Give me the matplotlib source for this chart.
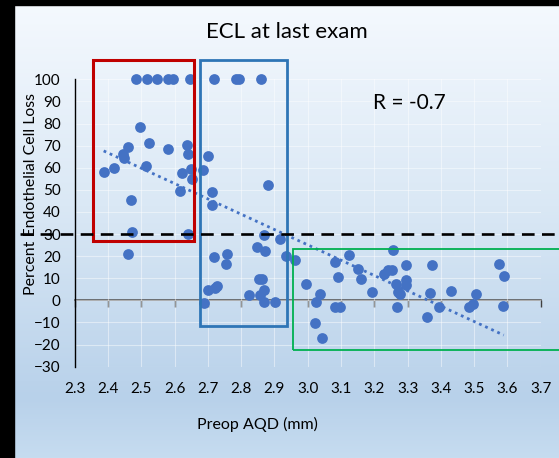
import numpy as np
import matplotlib
matplotlib.use("Agg")
from matplotlib import pyplot as plt
from matplotlib.colors import LinearSegmentedColormap
from matplotlib.patches import Rectangle
import matplotlib.transforms as mtransforms

plt.rcParams['font.family'] = ['Lato', 'DejaVu Sans']

# data: preop AQD (mm) vs percent endothelial cell loss
aqd_100 = [2.483, 2.517, 2.546, 2.581, 2.596, 2.646, 2.719, 2.785, 2.794, 2.861]
ecl_100 = [100] * len(aqd_100)

aqd_left = [2.387, 2.418, 2.444, 2.449, 2.459, 2.495, 2.514, 2.522, 2.579, 2.617,
            2.621, 2.637, 2.641, 2.648, 2.651, 2.469, 2.471, 2.639, 2.459]
ecl_left = [58.1, 60.0, 66.4, 64.6, 69.4, 78.4, 60.9, 71.4, 68.5, 49.6,
            57.6, 70.4, 66.3, 59.6, 55.1, 45.6, 30.9, 30.2, 21.1]

aqd_mid = [2.684, 2.699, 2.712, 2.712, 2.881, 2.717, 2.758, 2.754, 2.848, 2.873,
           2.869, 2.916, 2.934, 2.701, 2.720, 2.727, 2.688, 2.824, 2.854, 2.863,
           2.869, 2.856, 2.868, 2.902]
ecl_mid = [58.8, 65.2, 48.9, 43.0, 52.3, 19.6, 21.1, 16.3, 24.1, 22.3,
           29.7, 27.7, 20.2, 4.5, 5.6, 6.3, -1.2, 2.3, 9.5, 9.8,
           4.5, 2.6, -0.9, -0.9]

aqd_right = [2.963, 2.994, 3.036, 3.026, 3.021, 3.043, 3.083, 3.123, 3.091, 3.081,
             3.096, 3.151, 3.161, 3.194, 3.228, 3.241, 3.254, 3.256, 3.294, 3.266,
             3.294, 3.296, 3.271, 3.276, 3.267, 3.374, 3.366, 3.357, 3.393, 3.430,
             3.486, 3.496, 3.506, 3.574, 3.589, 3.588]
ecl_right = [18.1, 7.2, 2.7, -0.8, -10.3, -17.0, 17.3, 20.4, 10.5, -3.0,
             -3.0, 14.0, 9.8, 3.8, 12.1, 13.9, 13.9, 22.9, 16.0, 7.2,
             9.4, 6.8, 3.8, 3.0, -3.0, 16.2, 3.5, -7.7, -3.0, 4.1,
             -3.0, -1.8, 3.0, 16.6, 10.9, -2.6]

x = np.array(aqd_100 + aqd_left + aqd_mid + aqd_right)
y = np.array(ecl_100 + ecl_left + ecl_mid + ecl_right)

threshold = 30
r_text = "R = -0.7"

# highlight boxes (x0, x1, y0, y1) in data units
box_red = (2.354, 2.659, 26.7, 108.6)
box_blue = (2.676, 2.938, -11.8, 108.6)
box_green = (2.956, 3.95, -22.6, 23.2)

W, H = 559, 458
fig = plt.figure(figsize=(W / 100, H / 100), dpi=100)

# gradient background
bg = fig.add_axes([0, 0, 1, 1], zorder=-10)
cmap = LinearSegmentedColormap.from_list(
    "bg", [(0, "#f5f9fe"), (0.45, "#dae8f5"), (0.87, "#b8d1ea"), (1.0, "#c6dcf0")])
bg.imshow(np.linspace(0, 1, 256).reshape(-1, 1), aspect="auto", cmap=cmap,
          extent=[0, 1, 0, 1], origin="upper")
bg.axis("off")

ax = fig.add_axes([74.7 / W, 1 - 366.7 / H, (540.7 - 74.7) / W, (366.7 - 79.3) / H])
ax.set_facecolor("none")
ax.set_xlim(2.3, 3.7)
ax.set_ylim(-30, 100)
ax.set_xticks(np.round(np.arange(2.3, 3.71, 0.1), 1))
ax.set_yticks(np.arange(-30, 101, 10))
ax.set_xticklabels([f"{v:.1f}" for v in np.arange(2.3, 3.71, 0.1)])
ax.grid(color="white", alpha=0.45, lw=0.8)
ax.set_axisbelow(True)
for s in ["top", "right", "bottom"]:
    ax.spines[s].set_visible(False)
ax.spines["left"].set_color("black")
ax.spines["left"].set_linewidth(1.0)
ax.tick_params(axis="both", length=0, labelsize=11, colors="black")
ax.tick_params(axis="y", pad=10)
ax.tick_params(axis="x", pad=11)

# horizontal axis line at zero with outside tick marks
sec = ax.secondary_xaxis(30 / 130)
sec.set_xticks(ax.get_xticks())
sec.set_xticklabels([])
sec.tick_params(direction="out", length=5, width=1.0, color="#404040")
sec.spines["bottom"].set_color("#595959")
sec.spines["bottom"].set_linewidth(1.2)

ax.scatter(x, y, s=60, color="#4472c4", zorder=3, linewidths=0, clip_on=False)

# linear trendline
coef = np.polyfit(x, y, 1)
xt = np.array([x.min(), x.max()])
ax.plot(xt, np.polyval(coef, xt), color="#4472c4", lw=2, ls=(0, (1, 1.4)), zorder=4)

for (x0, x1, y0, y1), col, lw in [(box_red, "#c00000", 2.2),
                                   (box_blue, "#2e75b6", 2.0),
                                   (box_green, "#00b050", 1.3)]:
    ax.add_patch(Rectangle((x0, y0), x1 - x0, y1 - y0, fill=False, edgecolor=col,
                           lw=lw, clip_on=False, zorder=5))

trans = mtransforms.blended_transform_factory(fig.transFigure, ax.transData)
ax.plot([0, 1], [threshold, threshold], transform=trans, color="black", lw=1.9,
        ls=(0, (4.8, 2.8)), clip_on=False, zorder=6)

ax.text(3.195, 89.3, r_text, fontsize=15, ha="left", va="center")

fig.text(287 / W, 1 - 32 / H, "ECL at last exam", fontsize=16, ha="center", va="center")
fig.text(31 / W, 1 - 194 / H, "Percent Endothelial Cell Loss", fontsize=11.4,
         rotation=90, ha="center", va="center")
fig.text(257.5 / W, 1 - 424 / H, "Preop AQD (mm)", fontsize=11.5, ha="center", va="center")

# black frame strips along the left and top edges
fig.patches.append(Rectangle((0, 0), 14 / W, 1, transform=fig.transFigure,
                             color="black", zorder=20))
fig.patches.append(Rectangle((0, 1 - 5 / H), 1, 5 / H, transform=fig.transFigure,
                             color="black", zorder=20))

fig.savefig("out.png", dpi=100)
